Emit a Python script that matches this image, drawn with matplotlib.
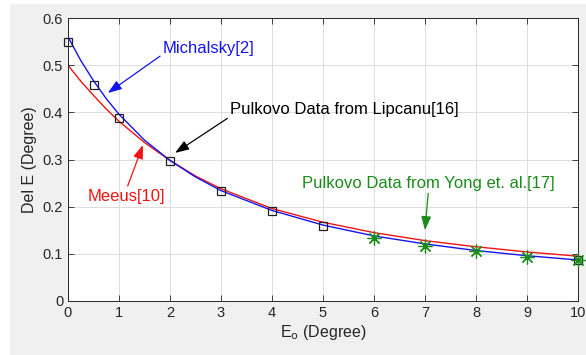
import numpy as np
import matplotlib.pyplot as plt
from matplotlib.patches import Rectangle

plt.rcParams['font.family'] = ['Liberation Sans', 'DejaVu Sans']

# Michalsky[2] curve (blue)
mich_x = [0, 0.25, 0.5, 0.75, 1, 1.5, 2, 2.5, 3, 4, 5, 6, 7, 8, 9, 10]
mich_y = [0.560, 0.510, 0.467, 0.429, 0.396, 0.341, 0.298, 0.263, 0.234,
          0.192, 0.161, 0.138, 0.121, 0.107, 0.096, 0.087]

# Meeus[10] curve (red)
meeus_x = [0, 0.25, 0.5, 0.75, 1, 1.5, 2, 2.5, 3, 4, 5, 6, 7, 8, 9, 10]
meeus_y = [0.500, 0.466, 0.436, 0.407, 0.381, 0.336, 0.298, 0.265, 0.238,
           0.196, 0.167, 0.145, 0.128, 0.115, 0.104, 0.095]

# Pulkovo data from Lipcanu[16] (squares)
lip_x = [0, 0.5, 1, 2, 3, 4, 5, 10]
lip_y = [0.550, 0.459, 0.389, 0.296, 0.233, 0.190, 0.160, 0.087]

# Pulkovo data from Yong et al.[17] (asterisks)
yong_x = [6, 7, 8, 9, 10]
yong_y = [0.133, 0.117, 0.105, 0.093, 0.087]

blue = '#1414f0'
red = '#f01414'
green = '#1a8c1a'

fig = plt.figure(figsize=(5.86, 3.55), dpi=100, facecolor='white')
fig.patches.append(Rectangle((10 / 586, 0), 1, 1 - 4 / 355, transform=fig.transFigure,
                             facecolor='#f0f0f0', edgecolor='none', zorder=-10))
ax = fig.add_axes([68 / 586, 54 / 355, 510 / 586, 283 / 355])

ax.plot(mich_x, mich_y, color=blue, lw=1.0, zorder=3)
ax.plot(meeus_x, meeus_y, color=red, lw=1.0, zorder=2)
ax.plot(lip_x, lip_y, ls='none', marker='s', ms=5.5, mfc='none', mec='#202020',
        mew=0.9, zorder=4, clip_on=False)
ax.plot(yong_x, yong_y, ls='none', marker=(8, 2, 0), ms=10, mec=green,
        mew=0.9, zorder=4, clip_on=False)

ax.set_xlim(0, 10)
ax.set_ylim(0, 0.6)
ax.set_xticks(range(11))
ax.set_yticks(np.arange(0, 0.61, 0.1))
ax.set_yticklabels(['0', '0.1', '0.2', '0.3', '0.4', '0.5', '0.6'])
ax.grid(True, color='#dcdcdc', lw=0.7)
ax.tick_params(direction='in', top=True, right=True, labelsize=10.5, colors='#262626',
               length=4, width=0.6)
for s in ax.spines.values():
    s.set_color('#262626')
    s.set_linewidth(0.7)

ax.set_xlabel('E$_\\mathrm{o}$ (Degree)', fontsize=11.5, color='#262626', labelpad=2)
ax.set_ylabel('Del E (Degree)', fontsize=11.5, color='#262626', labelpad=4)

arrow = dict(arrowstyle='-|>,head_length=0.7,head_width=0.25', lw=0.9,
             shrinkA=0, shrinkB=0)

ax.annotate('Michalsky[2]', xy=(0.78, 0.441), xytext=(1.86, 0.536), color=blue,
            fontsize=12, va='center', ha='left',
            arrowprops=dict(arrow, color=blue, relpos=(0, 0.1)))
ax.annotate('Pulkovo Data from Lipcanu[16]', xy=(2.1, 0.314), xytext=(3.18, 0.407),
            color='black', fontsize=12, va='center', ha='left',
            arrowprops=dict(arrow, color='black', relpos=(0, 0)))
ax.annotate('Meeus[10]', xy=(1.47, 0.331), xytext=(0.39, 0.222), color=red,
            fontsize=12, va='center', ha='left',
            arrowprops=dict(arrow, color=red, relpos=(0.5, 1)))
ax.annotate('Pulkovo Data from Yong et. al.[17]', xy=(7.0, 0.150), xytext=(4.59, 0.250),
            color=green, fontsize=12, va='center', ha='left',
            arrowprops=dict(arrow, color=green, relpos=(0.5, 0)))

fig.savefig('out.png', dpi=100, facecolor=fig.get_facecolor())
